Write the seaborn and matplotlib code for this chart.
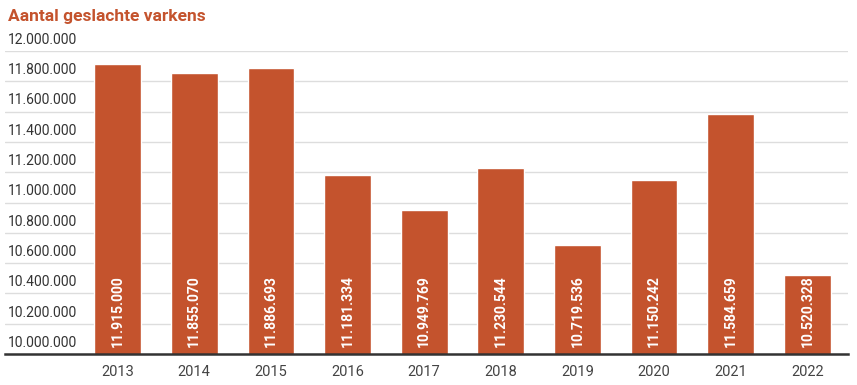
import numpy as np
import pandas as pd
import seaborn as sns
import matplotlib.pyplot as plt
import matplotlib.transforms as mtransforms

# data
years = ['2013', '2014', '2015', '2016', '2017', '2018', '2019', '2020', '2021', '2022']
slaughtered = [11915000, 11855070, 11886693, 11181334, 10949769, 11230544,
               10719536, 11150242, 11584659, 10520328]
y_ticks = [10000000, 10200000, 10400000, 10600000, 10800000, 11000000,
           11200000, 11400000, 11600000, 11800000, 12000000]

df = pd.DataFrame({'jaar': years, 'aantal': slaughtered})

def nl(v):
    return f'{v:,.0f}'.replace(',', '.')

sns.set_style('white')
plt.rcParams['font.family'] = ['Roboto', 'DejaVu Sans']

bar_color = '#c4532d'
fig = plt.figure(figsize=(8.57, 3.85), dpi=100)
ax = fig.add_axes([5 / 857, 1 - 354 / 385, 843 / 857, 303 / 385])

sns.barplot(data=df, x='jaar', y='aantal', color=bar_color, width=0.61,
            saturation=1, ax=ax)

ax.set_ylim(10000000, 12000000)
ax.set_xlim(-1.47, 9.53)
ax.set_xlabel('')
ax.set_ylabel('')
ax.set_yticks(y_ticks)
ax.set_yticklabels([])
ax.tick_params(axis='y', length=0)
ax.tick_params(axis='x', length=0, labelsize=10.5, colors='#444444', pad=8)
ax.grid(axis='y', color='#dddddd', linewidth=1)
ax.set_axisbelow(True)
for s in ['top', 'right', 'left']:
    ax.spines[s].set_visible(False)
ax.spines['bottom'].set_color('#333333')
ax.spines['bottom'].set_linewidth(1.8)

# y tick labels sit above the gridlines
trans = mtransforms.blended_transform_factory(ax.transAxes, ax.transData)
for t in y_ticks:
    ax.annotate(nl(t), xy=(0.004, t), xycoords=trans, xytext=(0, 3),
                textcoords='offset points', ha='left', va='bottom',
                fontsize=10, color='#333333')

# value labels inside bars
for i, v in enumerate(slaughtered):
    ax.annotate(nl(v), xy=(i, 10000000), xytext=(0, 5),
                textcoords='offset points', ha='center', va='bottom',
                rotation=90, fontsize=10, fontweight='bold', color='white')

fig.text(8 / 857, 1 - 16 / 385, 'Aantal geslachte varkens', ha='left',
         va='center', fontsize=12.5, fontweight='bold', color=bar_color)

fig.savefig('out.png', dpi=100)
